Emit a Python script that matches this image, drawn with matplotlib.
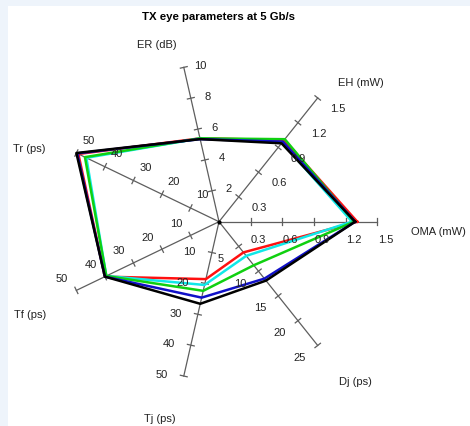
import numpy as np
from matplotlib import pyplot as plt
from matplotlib.patches import Rectangle

plt.rcParams['font.family'] = ['Liberation Sans', 'DejaVu Sans']

# Spoke names, full-scale values and tick labels
axis_names = ['OMA (mW)', 'EH (mW)', 'ER (dB)', 'Tr (ps)', 'Tf (ps)', 'Tj (ps)', 'Dj (ps)']
axis_max = [1.5, 1.5, 10, 50, 50, 50, 25]
tick_labels = [
    ['0.3', '0.6', '0.9', '1.2', '1.5'],
    ['0.3', '0.6', '0.9', '1.2', '1.5'],
    ['2', '4', '6', '8', '10'],
    ['10', '20', '30', '40', '50'],
    ['10', '20', '30', '40', '50'],
    ['10', '20', '30', '40', '50'],
    ['5', '10', '15', '20', '25'],
]

# Measured eye parameters, one list per trace (same order as axis_names)
red_vals = [1.31, 0.99, 5.4, 49.3, 40.0, 18.6, 6.2]
cyan_vals = [1.26, 0.96, 5.4, 46.5, 39.5, 20.5, 6.9]
green_vals = [1.28, 1.00, 5.4, 47.0, 39.5, 22.4, 8.8]
blue_vals = [1.29, 0.97, 5.35, 49.7, 40.0, 24.6, 11.5]
black_vals = [1.29, 0.95, 5.35, 50.0, 40.0, 26.6, 11.9]

series = [red_vals, cyan_vals, green_vals, blue_vals, black_vals]
colors = ['#ff1010', '#10e8e8', '#10d010', '#1010c8', '#000000']

# layout (pixels): figure size, spoke centre and spoke length
W, H = 470, 426
cx, cy = 219, 204.3
R = 158.3
px = 1.0 / R

# per-spoke offsets (pixels) for tick labels and spoke names
tick_off = [(8, -18.5), (20.5, -11.3), (17, 1.6), (12, 12.5),
            (-14.5, 11.6), (-22.4, 0.7), (-18.3, -12.5)]
name_off = [(61, -10), (43.3, 14.6), (-27.1, 22.4), (-47.1, 3.7),
            (-46.4, -24.6), (-23.8, -43.3), (37.3, -36.8)]

n = len(axis_names)
angles = np.arange(n) * 2 * np.pi / n

fig = plt.figure(figsize=(W / 100, H / 100), dpi=100, facecolor='#eef4fb')
ax = fig.add_axes([0, 0, 1, 1])
ax.set_xlim(-cx * px, (W - cx) * px)
ax.set_ylim(-cy * px, (H - cy) * px)
ax.set_aspect('equal')
ax.axis('off')

# white plotting area inside the light frame
ax.add_patch(Rectangle((-(cx - 8) * px, -cy * px), (W - 8) * px, (H - 6) * px,
                       facecolor='white', edgecolor='none', zorder=0))

fig.text(218 / W, 1 - 17 / H, 'TX eye parameters at 5 Gb/s', ha='center', va='center',
         fontsize=8.2, fontweight='bold')

tl = 3.5 * px
for i in range(n):
    a = angles[i]
    u = np.array([np.cos(a), np.sin(a)])
    p = np.array([-np.sin(a), np.cos(a)])
    ax.plot([0, u[0]], [0, u[1]], color='#5e5e5e', lw=0.9, zorder=1)
    for k in range(5):
        t = (k + 1) / 5 * u
        ax.plot([t[0] - p[0] * tl, t[0] + p[0] * tl], [t[1] - p[1] * tl, t[1] + p[1] * tl],
                color='#5e5e5e', lw=0.9, zorder=1)
        ax.text(t[0] + tick_off[i][0] * px, t[1] + tick_off[i][1] * px, tick_labels[i][k],
                ha='center', va='center', fontsize=8, color='#222222', zorder=4)
    ax.text(u[0] + name_off[i][0] * px, u[1] + name_off[i][1] * px, axis_names[i],
            ha='center', va='center', fontsize=8, color='#222222')

ax.plot(0, 0, 'o', color='black', ms=2, zorder=5)

for vals, c in zip(series, colors):
    r = np.array(vals) / np.array(axis_max)
    xs = r * np.cos(angles)
    ys = r * np.sin(angles)
    ax.plot(np.append(xs, xs[0]), np.append(ys, ys[0]), color=c, lw=1.8, zorder=3)

fig.savefig('out.png', dpi=100, facecolor=fig.get_facecolor())
